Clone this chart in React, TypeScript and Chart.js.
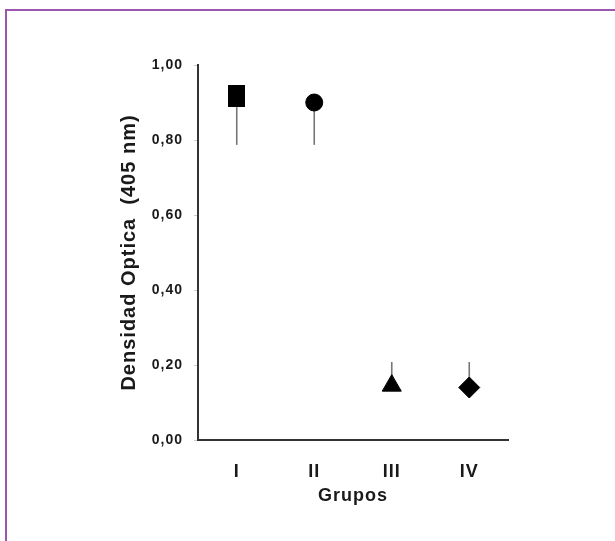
import React, { useEffect, useRef } from "react";
import { Chart, registerables } from "chart.js";

Chart.register(...registerables);

const groups = ["I", "II", "III", "IV"];
const means = [0.917, 0.9, 0.145, 0.14];
const errors = [0.13, 0.113, 0.063, 0.068];
const errorDirection = [-1, -1, 1, 1];
const yTicks = [0, 0.2, 0.4, 0.6, 0.8, 1.0];
const yTitle = "Densidad Optica  (405 nm)";
const xTitle = "Grupos";

const FONT = "'Liberation Sans', Arial, Helvetica, sans-serif";

function makeRectMarker(w: number, h: number) {
  const c = document.createElement("canvas");
  c.width = w;
  c.height = h;
  const ctx = c.getContext("2d")!;
  ctx.fillStyle = "#000";
  ctx.fillRect(0, 0, w, h);
  return c;
}

const spacingPlugin = {
  id: "letterSpacing",
  beforeDraw(chart: any) {
    try {
      (chart.ctx as any).letterSpacing = "1px";
    } catch (e) {}
  },
};

const errorBarPlugin = {
  id: "oneSidedErrors",
  beforeDatasetsDraw(chart: any) {
    const { ctx, scales } = chart;
    const meta = chart.getDatasetMeta(0);
    ctx.save();
    ctx.strokeStyle = "#777777";
    ctx.lineWidth = 1.6;
    meta.data.forEach((pt: any, i: number) => {
      const yEnd = scales.y.getPixelForValue(means[i] + errorDirection[i] * errors[i]);
      ctx.beginPath();
      ctx.moveTo(pt.x, pt.y);
      ctx.lineTo(pt.x, yEnd);
      ctx.stroke();
    });
    ctx.restore();
  },
};

export default function App() {
  const ref = useRef<HTMLCanvasElement>(null);

  useEffect(() => {
    document.body.style.margin = "0";
    const rectMarker = makeRectMarker(17, 22);
    const chart = new Chart(ref.current!, {
      type: "line",
      data: {
        labels: groups,
        datasets: [
          {
            data: means,
            showLine: false,
            pointStyle: [rectMarker as any, "circle", "triangle", "rectRot"],
            pointRadius: [9, 8.5, 11, 10.5],
            pointBackgroundColor: "#000",
            pointBorderColor: "#000",
            pointBorderWidth: 1,
          },
        ],
      },
      options: {
        responsive: false,
        animation: false,
        events: [],
        layout: { padding: { left: 113, top: 65, right: 107, bottom: 30 } },
        plugins: {
          legend: { display: false },
          tooltip: { enabled: false },
        },
        scales: {
          x: {
            type: "category",
            offset: true,
            grid: { display: false },
            border: { display: true, color: "#333", width: 2 },
            ticks: {
              color: "#1a1a1a",
              padding: 13,
              font: { family: FONT, size: 18, weight: "bold" },
            },
            title: {
              display: true,
              text: xTitle,
              color: "#1a1a1a",
              font: { family: FONT, size: 18, weight: "bold" },
            },
            afterFit: (s: any) => {
              s.height = 71;
            },
          },
          y: {
            min: 0,
            max: 1,
            afterBuildTicks: (s: any) => {
              s.ticks = yTicks.map((v) => ({ value: v }));
            },
            grid: {
              display: true,
              drawOnChartArea: false,
              drawTicks: true,
              tickLength: 4,
              color: "#cccccc",
            },
            border: { display: true, color: "#333", width: 2 },
            ticks: {
              color: "#1a1a1a",
              padding: 11,
              font: { family: FONT, size: 14, weight: "bold" },
              callback: (v: any) => Number(v).toFixed(2).replace(".", ","),
            },
            title: {
              display: true,
              text: yTitle,
              color: "#1a1a1a",
              font: { family: FONT, size: 20, weight: "bold" },
            },
            afterFit: (s: any) => {
              s.width = 85;
            },
          },
        },
      },
      plugins: [spacingPlugin, errorBarPlugin],
    });
    return () => chart.destroy();
  }, []);

  return (
    <div style={{ position: "fixed", left: 0, top: 0, width: 615, height: 541, background: "#fff", overflow: "hidden" }}>
      <div
        style={{
          position: "absolute",
          left: 5,
          top: 9,
          width: 640,
          height: 600,
          borderTop: "2px solid #9b57b0",
          borderLeft: "2px solid #9b57b0",
        }}
      />
      <canvas ref={ref} width={615} height={541} style={{ position: "absolute", left: 0, top: 0 }} />
    </div>
  );
}
